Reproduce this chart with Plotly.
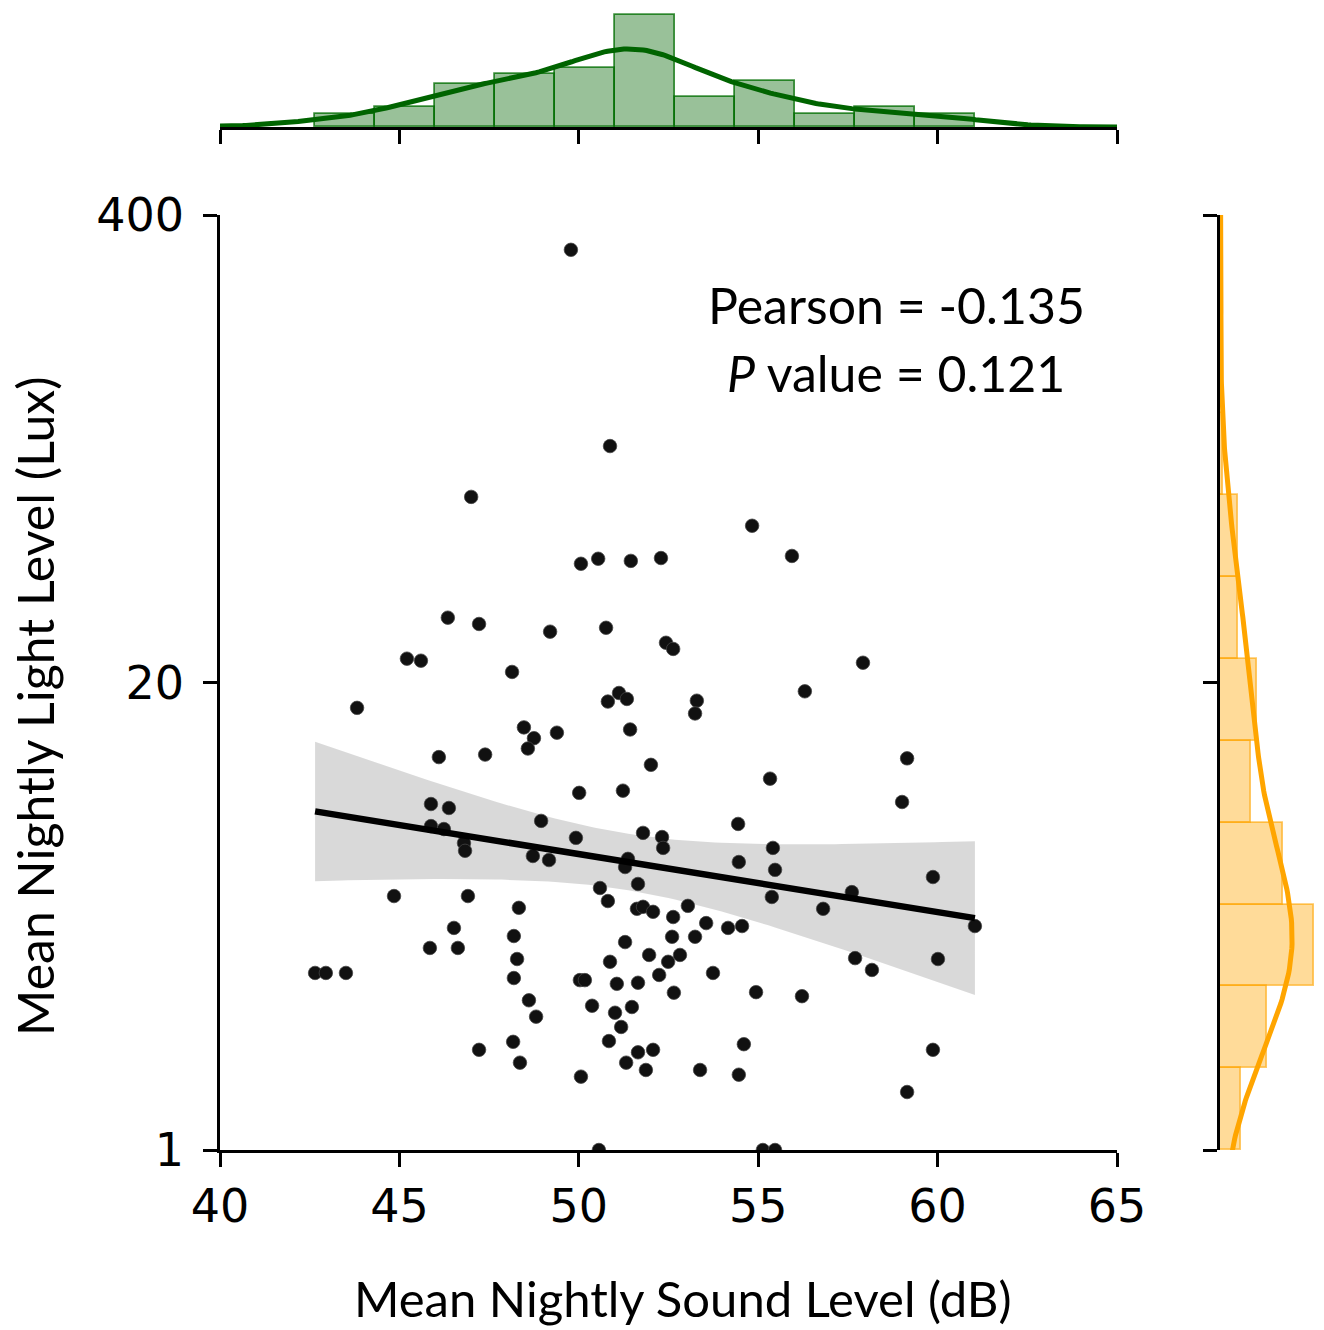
import numpy as np
import plotly.graph_objects as go

# Mean nightly sound level (dB) per subject
sound = [
    49.78, 50.87, 47.00, 54.83, 50.06, 50.54, 51.45, 52.29, 55.94,
    46.35, 47.22, 49.20, 50.76, 45.21, 45.60, 52.43, 52.63, 57.92, 48.14,
    43.82, 50.81, 51.12, 51.34, 53.29, 53.24, 56.30,
    48.47, 48.75, 48.58, 49.39, 51.43, 46.10, 47.39, 52.01, 55.33, 59.15,
    50.01, 51.23, 59.01, 45.88, 46.38, 45.88, 46.24, 48.95, 54.44,
    46.80, 46.83, 49.92, 51.79, 52.32, 52.35, 55.41, 48.72, 49.17, 51.37, 51.29, 54.46, 55.47,
    44.85, 46.91, 50.59, 50.81, 51.65, 55.38, 57.61, 59.87,
    48.33, 51.62, 51.79, 52.07, 52.63, 53.04, 53.55, 54.16, 54.55, 56.81, 61.04,
    46.52, 46.63, 45.85, 48.19, 51.29, 52.60, 53.24,
    48.28, 50.87, 51.96, 52.49, 52.82, 52.24, 53.74, 57.70, 58.17, 60.01,
    42.65, 42.95, 43.51, 48.19, 50.03, 50.17, 51.06, 51.65, 52.65, 54.94, 56.22,
    48.61, 48.81, 50.37, 51.48, 51.01, 51.18, 50.84, 48.17, 54.60, 59.87, 47.22, 51.65, 52.07,
    48.36, 51.32, 51.87, 53.38, 54.46, 50.06, 59.15, 50.56, 55.13, 55.47,
]

# Mean nightly light level (lux) per subject
light = [
    320, 91, 65.7, 54.6, 42.8, 44.2, 43.6, 44.4, 45.0,
    30.3, 29.1, 27.7, 28.4, 23.3, 23.0, 25.8, 24.8, 22.7, 21.4,
    17.0, 17.7, 18.7, 18.0, 17.8, 16.4, 18.9,
    15.0, 14.0, 13.1, 14.5, 14.8, 12.4, 12.6, 11.8, 10.8, 12.3,
    9.86, 10.0, 9.30, 9.18, 8.95, 7.97, 7.82, 8.24, 8.08,
    7.15, 6.80, 7.39, 7.63, 7.43, 6.93, 6.93, 6.58, 6.41, 6.46, 6.13, 6.33, 6.02,
    5.09, 5.09, 5.36, 4.93, 5.50, 5.06, 5.22, 5.75,
    4.72, 4.69, 4.75, 4.60, 4.45, 4.78, 4.28, 4.15, 4.20, 4.69, 4.20,
    4.15, 3.65, 3.65, 3.94, 3.79, 3.92, 3.92,
    3.40, 3.34, 3.49, 3.34, 3.49, 3.07, 3.11, 3.42, 3.17, 3.40,
    3.11, 3.11, 3.11, 3.01, 2.97, 2.97, 2.90, 2.92, 2.74, 2.75, 2.68,
    2.61, 2.35, 2.52, 2.50, 2.41, 2.20, 2.01, 2.00, 1.97, 1.90, 1.90, 1.87, 1.90,
    1.75, 1.75, 1.67, 1.67, 1.62, 1.60, 1.45, 1.00, 1.00, 1.00,
]

x_ticks = [40, 45, 50, 55, 60, 65]
y_ticks = [1, 20, 400]
y_ticktext = ["1", "20", "400"]
x_range = [40, 65]
y_range = [1, 400]
stat_lines = ["Pearson = -0.135", "<i>P</i> value = 0.121"]
x_title = "Mean Nightly Sound Level (dB)"
y_title = "Mean Nightly Light Level (Lux)"
n_bins = 11

xs = np.array(sound, dtype=float)
ls = np.log10(np.array(light, dtype=float))
n = len(xs)

# regression of log10(light) on sound with 95% CI
slope, intercept = np.polyfit(xs, ls, 1)
grid = np.linspace(xs.min(), xs.max(), 100)
pred = intercept + slope * grid
resid = ls - (intercept + slope * xs)
s = np.sqrt(np.sum(resid ** 2) / (n - 2))
sxx = np.sum((xs - xs.mean()) ** 2)
se = s * np.sqrt(1.0 / n + (grid - xs.mean()) ** 2 / sxx)
tcrit = 1.979
upper = 10 ** (pred + tcrit * se)
lower = 10 ** (pred - tcrit * se)


def kde(data, pts):
    bw = data.std(ddof=1) * len(data) ** (-1 / 5)
    z = (pts[:, None] - data[None, :]) / bw
    return np.exp(-0.5 * z ** 2).sum(axis=1) / (len(data) * bw * np.sqrt(2 * np.pi)), bw


# top marginal
hx, ex = np.histogram(xs, bins=n_bins, density=True)
cx = (ex[:-1] + ex[1:]) / 2
wx = ex[1] - ex[0]
_, bwx = kde(xs, np.array([0.0]))
gx = np.linspace(xs.min() - 3 * bwx, xs.max() + 3 * bwx, 300)
kx, _ = kde(xs, gx)

# right marginal (log10 space)
hy, ey = np.histogram(ls, bins=n_bins, density=True)
cy = (ey[:-1] + ey[1:]) / 2
wy = ey[1] - ey[0]
_, bwy = kde(ls, np.array([0.0]))
gy = np.linspace(ls.min() - 3 * bwy, ls.max() + 3 * bwy, 300)
ky, _ = kde(ls, gy)

W, H = 1324, 1330
main_x = [220 / W, 1117 / W]
main_y = [(H - 1150) / H, (H - 215) / H]
top_y = [(H - 127) / H, 1.0]
right_x = [1220 / W, 1.0]

tickfont = dict(family="DejaVu Sans", size=46, color="black")
txtfont = dict(family="Lato", size=50, color="black")

fig = go.Figure()

fig.add_trace(go.Scatter(
    x=np.concatenate([grid, grid[::-1]]), y=np.concatenate([upper, lower[::-1]]),
    fill="toself", fillcolor="rgba(0,0,0,0.15)", line=dict(width=0),
    mode="lines", hoverinfo="skip", xaxis="x", yaxis="y"))
fig.add_trace(go.Scatter(
    x=xs, y=light, mode="markers",
    marker=dict(size=13.5, color="#111111", line=dict(width=0.8, color="#444444")),
    xaxis="x", yaxis="y"))
fig.add_trace(go.Scatter(
    x=grid, y=10 ** pred, mode="lines", line=dict(color="black", width=6.5),
    xaxis="x", yaxis="y"))

fig.add_trace(go.Bar(
    x=cx, y=hx, width=wx, marker=dict(color="rgba(0,100,0,0.4)",
                                      line=dict(color="rgba(0,110,0,0.75)", width=1.8)),
    xaxis="x2", yaxis="y2"))
fig.add_trace(go.Scatter(
    x=gx, y=kx, mode="lines", line=dict(color="darkgreen", width=5),
    xaxis="x2", yaxis="y2"))

fig.add_trace(go.Bar(
    y=cy, x=hy, width=wy, orientation="h",
    marker=dict(color="rgba(255,165,0,0.4)", line=dict(color="rgba(255,165,0,0.6)", width=1.8)),
    xaxis="x3", yaxis="y3"))
fig.add_trace(go.Scatter(
    x=ky, y=gy, mode="lines", line=dict(color="orange", width=5),
    xaxis="x3", yaxis="y3"))

axis_common = dict(showgrid=False, zeroline=False, showline=True, linecolor="black",
                   linewidth=2.5, ticks="outside", tickcolor="black", tickwidth=2.5,
                   ticklen=14, automargin=False)

top_max = hx.max() * 127 / 112
right_max = hy.max() * 104 / 94

fig.update_layout(
    width=W, height=H, margin=dict(l=0, r=0, t=0, b=0, autoexpand=False),
    paper_bgcolor="white", plot_bgcolor="white", showlegend=False, bargap=0,
    xaxis=dict(domain=main_x, range=x_range, tickvals=x_ticks, anchor="y",
               tickfont=tickfont, ticklabelstandoff=0, **axis_common),
    yaxis=dict(domain=main_y, type="log", range=[np.log10(y_range[0]), np.log10(y_range[1])],
               tickvals=y_ticks, ticktext=y_ticktext, anchor="x",
               tickfont=tickfont, ticklabelstandoff=10, **axis_common),
    xaxis2=dict(domain=main_x, range=x_range, tickvals=x_ticks, anchor="y2",
                showticklabels=False, **axis_common),
    yaxis2=dict(domain=top_y, range=[0, top_max], anchor="x2", visible=False),
    xaxis3=dict(domain=right_x, range=[0, right_max], anchor="y3", visible=False),
    yaxis3=dict(domain=main_y, range=[0, np.log10(y_range[1])],
                tickvals=[np.log10(v) for v in y_ticks], anchor="x3",
                showticklabels=False, **axis_common),
)

fig.add_annotation(text=stat_lines[0], x=896 / W, y=(H - 305) / H, xref="paper", yref="paper",
                   xanchor="center", yanchor="middle", showarrow=False, font=txtfont)
fig.add_annotation(text=stat_lines[1], x=896 / W, y=(H - 373) / H, xref="paper", yref="paper",
                   xanchor="center", yanchor="middle", showarrow=False, font=txtfont)
fig.add_annotation(text=x_title, x=683 / W, y=(H - 1298) / H, xref="paper", yref="paper",
                   xanchor="center", yanchor="middle", showarrow=False,
                   font=dict(family="Lato", size=49, color="black"))
fig.add_annotation(text=y_title, x=35 / W, y=(H - 706) / H, xref="paper", yref="paper",
                   xanchor="center", yanchor="middle", showarrow=False, font=txtfont,
                   textangle=-90)

fig.write_html(
    "out.html",
    config={"displayModeBar": False},
    post_script="document.body.style.margin='0';document.body.style.padding='0';"
                "document.body.style.overflow='hidden';",
)
